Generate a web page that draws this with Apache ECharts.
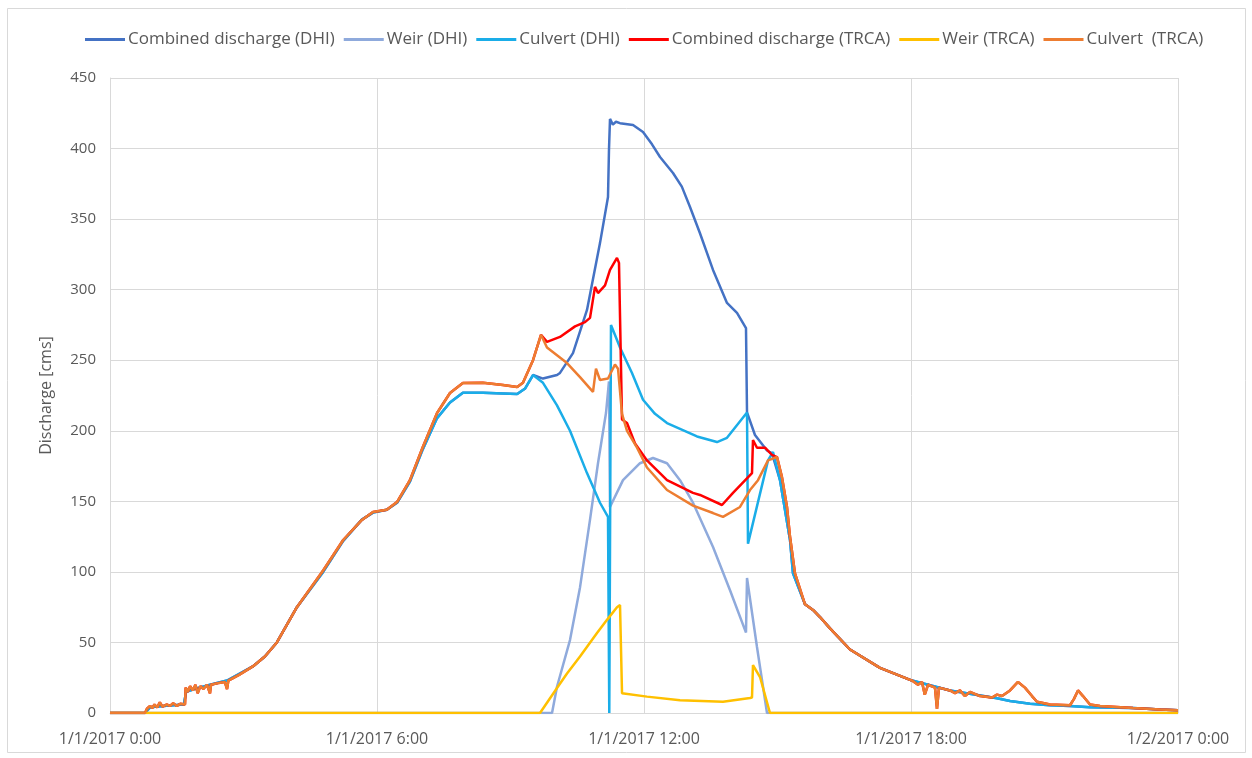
<!DOCTYPE html>
<html>
<head>
<meta charset="utf-8">
<script src="https://cdn.jsdelivr.net/npm/echarts@6/dist/echarts.min.js"></script>
<style>
html,body{margin:0;padding:0;background:#fff;}
#c{width:1252px;height:758px;}
</style>
</head>
<body>
<div id="c"></div>
<script>
// ---- DATA (x = hours after 1/1/2017 0:00, y = discharge in cms) ----
var seriesNames = ['Combined discharge (DHI)', 'Weir (DHI)', 'Culvert (DHI)',
                   'Combined discharge (TRCA)', 'Weir (TRCA)', 'Culvert  (TRCA)'];
var xTickLabels = ['1/1/2017 0:00', '1/1/2017 6:00', '1/1/2017 12:00', '1/1/2017 18:00', '1/2/2017 0:00'];
var yTickLabels = [0, 50, 100, 150, 200, 250, 300, 350, 400, 450];

// shared DHI rising limb (culvert = combined until weir starts)
var dhiRise = [[0,0],[0.787,0],[0.9,4],[1.2,5],[1.66,6],[1.71,15],[1.9,17],[2.25,20],[2.63,23],[3.21,33],
  [3.48,40],[3.75,50],[4.2,75],[4.79,100],[5.24,122],[5.66,137],[5.91,142],[6.22,144],[6.45,149],
  [6.74,164],[7.03,187],[7.35,209],[7.64,220],[7.93,227],[8.38,227],[8.83,226.5],[9.15,226],
  [9.33,230],[9.506,239.5]];
// shared DHI recession limb
var dhiTail = [[15.281,122.6],[15.348,99],[15.618,77],[15.798,73],[15.955,68],[16.18,60],[16.629,45],
  [17.303,32],[18.022,23],[18.876,16],[19.933,10.5],[20.225,8.5],[20.674,6.5],[21.124,5.5],
  [21.573,5],[22.022,4],[22.989,3.5],[23.6,2.5],[24,2]];
var culvertDHIPeak = [[9.73,234],[10.045,218],[10.337,200],[10.719,170],[11.011,149],[11.191,139],
  [11.22,0],[11.24,0],[11.258,275],[11.461,259],[11.73,241],[11.978,222],[12.247,212],[12.517,205.5],
  [13.191,196],[13.64,192],[13.865,195],[14.315,213],[14.337,120],[14.787,179],[14.899,185],[15.056,165]];
var combinedDHIPeak = [[9.73,237],[10.045,239.5],[10.112,241],[10.404,255],[10.719,285.6],[11.011,333],
  [11.191,365.7],[11.213,399],[11.236,421],[11.3,417],[11.37,419],[11.461,418],[11.753,416.7],
  [11.978,411.8],[12.18,403],[12.36,394],[12.652,382.7],[12.85,373],[13.034,358.6],[13.258,340],
  [13.551,314],[13.865,290.6],[14.09,283.5],[14.292,272.8],[14.315,213],[14.494,197],[14.764,186],
  [14.876,184],[15.056,165]];
var weirDHI = [[0,0],[9.933,0],[10.045,18.6],[10.337,51.7],[10.562,89],[10.787,137],[10.966,177],
  [11.146,212.6],[11.213,235],[11.236,146],[11.528,165],[11.91,177],[12.202,180.7],[12.517,177],
  [12.809,165],[13.101,149],[13.551,117.6],[13.933,87],[14.292,57],[14.315,95.7],[14.539,46.8],
  [14.764,0],[24,0]];

// shared TRCA rising limb (culvert = combined until weir starts)
var trcaRise = [[0,0],[0.787,0],[0.83,3],[0.9,5],[0.95,3.5],[1.0,6],[1.06,4],[1.12,7.5],[1.18,4.5],
  [1.27,6],[1.35,5],[1.42,7],[1.5,5],[1.58,6.5],[1.685,6],[1.70,18],[1.75,15],[1.8,19],[1.86,16],
  [1.92,20],[1.97,14],[2.03,19],[2.1,17],[2.18,20],[2.247,14],[2.27,20],[2.4,21],[2.58,22],[2.63,17],
  [2.66,23],[2.9,27],[3.21,33],[3.48,40],[3.75,50],[4.2,75],[4.79,101],[5.24,122.6],[5.66,136.8],
  [5.91,142.5],[6.22,144],[6.45,149.5],[6.74,165],[7.03,188.5],[7.35,212.6],[7.64,226.8],[7.93,233.9],
  [8.38,234],[8.83,232.5],[9.15,231],[9.28,234],[9.506,250],[9.685,268]];
var trcaTail = [[15.101,167],[15.213,146],[15.281,125],[15.393,99],[15.618,77],[15.798,73],[15.955,68],
  [16.18,60],[16.629,45],[17.303,32],[18.022,23],[18.157,20],[18.247,22],[18.31,13],[18.382,20],
  [18.539,18],[18.584,3],[18.629,18],[18.876,16],[18.99,14],[19.1,16],[19.213,12],[19.326,15],
  [19.55,12],[19.82,11],[19.933,13],[20.045,12],[20.225,16],[20.404,22],[20.56,18],[20.719,12],
  [20.831,8],[21.124,6],[21.573,5.5],[21.663,10],[21.753,16],[21.865,12],[22.022,6],[22.247,5],
  [22.989,3.5],[23.6,2.5],[24,2]];
var culvertTRCAPeak = [[9.82,259],[10.27,248],[10.562,238],[10.854,227.6],[10.921,244],[11.011,236],
  [11.191,237],[11.348,247],[11.416,244],[11.506,212],[11.618,200],[11.843,188],[12.067,174],
  [12.517,158],[13.101,147],[13.551,141.7],[13.775,139],[14.157,146],[14.382,158],[14.562,165],
  [14.787,179],[14.989,181.4]];
var combinedTRCAPeak = [[9.82,263],[10.112,266.5],[10.45,274],[10.674,277],[10.787,280],[10.899,302],
  [10.966,297.6],[11.124,303],[11.236,314],[11.393,322.5],[11.438,319],[11.506,208],[11.618,205.5],
  [11.798,191],[12.067,179],[12.517,165],[13.101,156],[13.258,154.5],[13.753,147.4],[14.0,156],
  [14.427,170],[14.449,193.5],[14.539,188],[14.719,188],[14.876,183],[14.989,181.4]];
var weirTRCA = [[0,0],[9.663,0],[10.045,17.7],[10.27,28],[10.562,40],[10.944,56.7],[11.169,66],
  [11.393,75],[11.461,76.5],[11.506,14],[12.067,11.6],[12.809,9],[13.775,8],[14.382,10.6],
  [14.427,11],[14.449,34],[14.607,25.5],[14.831,0],[24,0]];

var colors = ['#4472C4', '#8FAADC', '#1AADE8', '#FF0000', '#FFC000', '#ED7D31'];

var seriesData = [
  dhiRise.concat(combinedDHIPeak, dhiTail),
  weirDHI,
  dhiRise.concat(culvertDHIPeak, dhiTail),
  trcaRise.concat(combinedTRCAPeak, trcaTail),
  weirTRCA,
  trcaRise.concat(culvertTRCAPeak, trcaTail)
];

var FONT = '"Open Sans", "Noto Sans", sans-serif';
var chart = echarts.init(document.getElementById('c'), null, {renderer: 'canvas'});
chart.setOption({
  animation: false,
  backgroundColor: '#ffffff',
  color: colors,
  graphic: [{
    type: 'rect', silent: true, z: -10,
    shape: {x: 7.5, y: 8.5, width: 1238, height: 744},
    style: {fill: 'none', stroke: '#D9D9D9', lineWidth: 1}
  }],
  legend: {
    top: 26, left: 80,
    itemWidth: 40, itemHeight: 3, itemGap: 9,
    icon: 'rect',
    textStyle: {color: '#595959', fontSize: 17, fontFamily: FONT, padding: [0, 0, 0, -2]},
    data: seriesNames
  },
  grid: {left: 110, right: 74, top: 78, bottom: 45, containLabel: false},
  xAxis: {
    type: 'value', min: 0, max: 24, interval: 6,
    axisLine: {show: true, lineStyle: {color: '#D9D9D9', width: 1}},
    axisTick: {show: false},
    splitLine: {show: true, lineStyle: {color: '#D9D9D9', width: 1}},
    axisLabel: {
      color: '#595959', fontSize: 16, fontFamily: FONT, margin: 18,
      formatter: function (v) { return xTickLabels[Math.round(v / 6)]; }
    }
  },
  yAxis: {
    type: 'value', min: 0, max: 450, interval: 50,
    name: 'Discharge [cms]', nameLocation: 'middle', nameGap: 56, nameRotate: 90,
    nameTextStyle: {color: '#595959', fontSize: 16, fontFamily: FONT},
    axisLine: {show: true, lineStyle: {color: '#D9D9D9', width: 1}},
    axisTick: {show: false},
    splitLine: {show: true, lineStyle: {color: '#D9D9D9', width: 1}},
    axisLabel: {
      color: '#595959', fontSize: 15, fontFamily: FONT, margin: 14,
      formatter: function (v) { return String(yTickLabels[Math.round(v / 50)]); }
    }
  },
  series: seriesNames.map(function (n, i) {
    return {
      name: n, type: 'line', data: seriesData[i],
      showSymbol: false, symbol: 'none', smooth: false,
      lineStyle: {width: 2.5, color: colors[i]},
      itemStyle: {color: colors[i]},
      emphasis: {disabled: true}
    };
  })
});
</script>
</body>
</html>
